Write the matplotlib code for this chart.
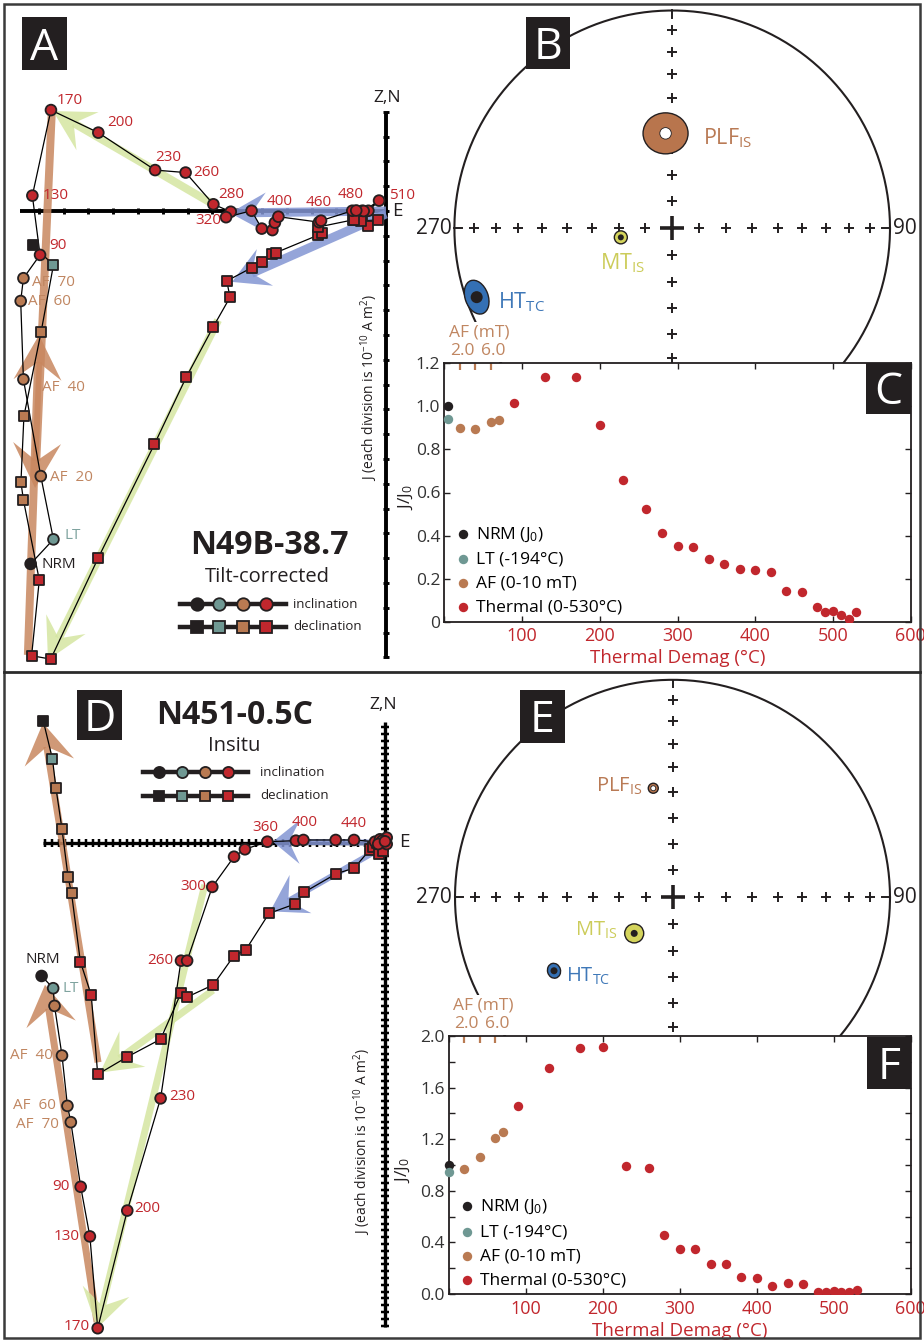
import numpy as np
import matplotlib
matplotlib.use('Agg')
import matplotlib.pyplot as plt
from matplotlib.patches import Rectangle, Ellipse, Circle, Polygon
from matplotlib.lines import Line2D

W, H = 924, 1341
plt.rcParams['font.family'] = ['Open Sans', 'DejaVu Sans']
plt.rcParams['mathtext.fontset'] = 'custom'
plt.rcParams['mathtext.rm'] = 'Open Sans'
plt.rcParams['mathtext.it'] = 'Open Sans:italic'
plt.rcParams['mathtext.bf'] = 'Open Sans:bold'

RED = '#c1272d'
BROWN = '#b97a52'
BROWN_TXT = '#c08661'
TEAL = '#6f9893'
TEAL_TXT = '#7fa39f'
INK = '#231f20'
FIT_GREEN = '#d5e6a1'
FIT_BLUE = '#8395d3'
FIT_BROWN = '#c8875f'
PLF_COL = '#b8754d'
MT_COL = '#d4d45c'
HT_COL = '#3470b4'

# demag steps: NRM, LT, AF (mT x10) then thermal (C)
steps = ['NRM', 'LT', 'AF 20', 'AF 40', 'AF 60', 'AF 70', 90, 130, 170, 200, 230, 260, 280,
         300, 320, 340, 360, 380, 400, 420, 440, 460, 480, 490, 500, 510, 520, 530]
step_col = [INK, TEAL] + [BROWN] * 4 + [RED] * 22

# N49B-38.7, tilt corrected (divisions of 1e-10 A m^2)
a_inc_x = [-14.33, -13.41, -13.92, -14.62, -14.73, -14.62, -13.95, -14.26, -13.51, -11.60, -9.31, -8.08, -6.96,
           -6.26, -6.45, -5.42, -5.01, -4.58, -4.48, -4.34, -2.70, -2.62, -1.36, -0.96, -0.71, -0.28, -0.90, -1.20]
a_inc_y = [-14.23, -13.24, -10.69, -6.79, -3.63, -2.71, -1.77, 0.62, 4.07, 3.16, 1.65, 1.55, 0.27,
           -0.03, -0.25, 0.01, -0.71, -0.77, -0.47, -0.23, -0.45, -0.39, 0.01, 0.01, 0.01, 0.42, 0.00, 0.02]
a_dec_x = [-14.25, -13.41, -13.91, -14.60, -14.72, -14.62, -13.98, -14.29, -13.52, -11.60, -9.34, -8.06, -6.96,
           -6.29, -6.42, -5.42, -4.99, -4.61, -4.44, -2.73, -2.59, -2.75, -1.34, -0.96, -0.71, -0.33, -1.00, -1.30]
a_dec_y = [-1.37, -2.18, -4.89, -8.27, -10.94, -11.65, -14.88, -17.93, -18.07, -13.98, -9.41, -6.71, -4.66,
           -3.48, -2.82, -2.29, -2.07, -1.73, -1.68, -0.97, -0.90, -0.65, -0.36, -0.36, -0.60, -0.36, -0.40, -0.38]
# component fits (tail, tip)
a_fit_tail = [(-14.44, -17.9), (-13.47, 4.15), (-6.98, 0.28), (-6.77, -4.40), (0.0, 0.0), (0.0, -0.12)]
a_fit_tip = [(-13.99, -5.0), (-14.15, -11.17), (-13.43, 4.03), (-13.63, -18.1), (-6.29, -0.08), (-6.21, -2.86)]

# N451-0.5C, in situ
d_inc_x = [-50.5, -48.8, -48.6, -47.5, -46.7, -46.2, -44.75, -43.4, -42.25, -37.9, -33.0, -30.0, -29.1,
           -25.4, -22.2, -20.6, -17.3, -13.1, -12.0, -7.25, -4.56, -1.47, -0.74, 0.25, 0.25, -0.4, -1.0, 0.0]
d_inc_y = [-19.6, -21.4, -24.0, -31.3, -38.7, -41.1, -50.6, -57.9, -71.4, -54.1, -37.6, -17.35, -17.35,
           -6.5, -2.06, -0.97, 0.15, 0.3, 0.4, 0.4, 0.4, 0.15, 0.5, 0.74, -0.2, 0.3, -0.2, 0.2]
d_dec_x = [-50.25, -48.9, -48.4, -47.5, -46.6, -46.1, -44.8, -43.2, -42.25, -37.9, -33.0, -30.0, -29.1,
           -25.25, -22.2, -20.5, -17.06, -13.2, -11.9, -7.25, -4.5, -2.2, -1.7, -0.7, -1.2, -0.25, -0.9, -0.3]
d_dec_y = [17.9, 12.3, 8.1, 2.0, -5.1, -7.4, -17.5, -22.4, -34.06, -31.5, -28.9, -22.1, -22.7,
           -20.9, -16.6, -15.8, -10.4, -9.0, -7.3, -4.6, -3.7, -1.0, -0.6, -0.6, 0.0, -0.5, -1.6, -1.2]
d_fit_tail = [(-42.2, -32.3), (-42.35, -70.5), (-26.5, -6.2), (-25.3, -21.7), (0.3, 0.0), (0.3, -0.3)]
d_fit_tip = [(-50.3, 17.6), (-50.0, -20.9), (-42.35, -71.4), (-41.9, -33.8), (-16.5, 0.15), (-16.9, -10.1)]
fit_col = [FIT_BROWN, FIT_BROWN, FIT_GREEN, FIT_GREEN, FIT_BLUE, FIT_BLUE]

# normalised intensity J/J0
therm_T = [90, 130, 170, 200, 230, 260, 280, 300, 320, 340, 360, 380, 400, 420, 440, 460, 480, 490, 500, 510, 520, 530]
af_x = [20, 40, 60, 70]
c_nrm, c_lt = 1.0, 0.94
c_af = [0.90, 0.895, 0.927, 0.937]
c_th = [1.016, 1.137, 1.137, 0.912, 0.658, 0.523, 0.413, 0.353, 0.345, 0.290, 0.269, 0.245, 0.239, 0.232,
        0.143, 0.136, 0.067, 0.047, 0.050, 0.031, 0.013, 0.044]
f_nrm, f_lt = 1.0, 0.943
f_af = [0.966, 1.064, 1.212, 1.256]
f_th = [1.457, 1.754, 1.909, 1.915, 0.990, 0.979, 0.455, 0.351, 0.351, 0.235, 0.230, 0.134, 0.127, 0.065,
        0.083, 0.075, 0.018, 0.013, 0.021, 0.013, 0.018, 0.031]

# site mean directions (dec, inc)
b_dec = [356.0, 260.0, 250.6]
b_inc = [54.0, 70.5, 5.4]
e_dec = [350.0, 226.7, 238.2]
e_inc = [47.8, 70.3, 36.1]

fig = plt.figure(figsize=(W / 100, H / 100), dpi=100)


def fx(x):
    return x / W


def fy(y):
    return 1 - y / H


def add_px_axes(x0, y0, x1, y1):
    return fig.add_axes([fx(x0), fy(y1), (x1 - x0) / W, (y1 - y0) / H])


def set_px_limits(ax, box, origin, scale):
    x0, y0, x1, y1 = box
    ox, oy = origin
    ax.set_xlim((x0 - ox) / scale, (x1 - ox) / scale)
    ax.set_ylim((oy - y1) / scale, (oy - y0) / scale)


def fit_arrow(ax, tail, tip, color, scale, width, head_len, head_w, alpha=0.85):
    t = np.array(tail)
    p = np.array(tip)
    u = (p - t) / np.hypot(*(p - t))
    n = np.array([-u[1], u[0]])
    L, hw = head_len / scale, head_w / scale
    notch = p - 0.6 * L * u
    ax.plot([t[0], notch[0]], [t[1], notch[1]], color=color, lw=width * 0.72, alpha=alpha,
            solid_capstyle='butt', zorder=3)
    head = [p, p - L * u + hw * n, notch, p - L * u - hw * n]
    ax.add_patch(Polygon(head, closed=True, fc=color, ec='none', alpha=alpha, zorder=3))


def draw_zij(ax, inc_x, inc_y, dec_x, dec_y, tails, tips, heads, scale, xmin, ymin, ymax, axis_lw, tick_ms,
             labels):
    ax.set_axis_off()
    ax.plot([xmin, 0.1 * 24.8 / scale], [0, 0], color='k', lw=axis_lw, zorder=2, solid_capstyle='butt')
    ax.plot([0, 0], [ymin, ymax], color='k', lw=axis_lw, zorder=2, solid_capstyle='butt')
    xt = np.arange(np.ceil(xmin), 0)
    ax.plot(xt, np.zeros_like(xt), ls='none', marker='|', ms=tick_ms, mew=axis_lw * 0.75, color='k', zorder=2)
    yt = np.arange(np.ceil(ymin), np.floor(ymax) + 1)
    ax.plot(np.zeros_like(yt), yt, ls='none', marker='_', ms=tick_ms, mew=axis_lw * 0.75, color='k', zorder=2)
    for t, p, c, (bw, hl, hw) in zip(tails, tips, fit_col, heads):
        fit_arrow(ax, t, p, c, scale, bw, hl, hw)
    ax.plot(dec_x, dec_y, color='k', lw=0.9, zorder=4)
    ax.plot(inc_x, inc_y, color='k', lw=0.9, zorder=4)
    ax.scatter(dec_x, dec_y, s=52, marker='s', c=step_col, edgecolors=INK, linewidths=1.3, zorder=5)
    ax.scatter(inc_x, inc_y, s=60, marker='o', c=step_col, edgecolors=INK, linewidths=1.3, zorder=6)
    for i, txt, dx, dy, ha in labels:
        col = INK if i == 0 else TEAL_TXT if i == 1 else BROWN_TXT if i < 6 else RED
        ax.annotate(txt, (inc_x[i], inc_y[i]), xytext=(dx, dy), textcoords='offset pixels', ha=ha,
                    va='center', color=col, fontsize=11, zorder=7)


def zij_key(y_inc, y_dec, x0, x1, xs, ms, text_x):
    for y, mk, txt in ((y_inc, 'o', 'inclination'), (y_dec, 's', 'declination')):
        fig.add_artist(Line2D([fx(x0), fx(x1)], [fy(y), fy(y)], color=INK, lw=3.2, zorder=3))
        for xm, c in zip(xs, [INK, TEAL, BROWN, RED]):
            fig.add_artist(Line2D([fx(xm)], [fy(y)], marker=mk, ms=ms if mk == 'o' else ms - 0.8,
                                  mfc=c, mec=INK, mew=1.3, ls='none', zorder=4))
        fig.text(fx(text_x), fy(y), txt, fontsize=9.5, va='center', ha='left', color=INK)


def eq_area(dec, inc):
    r = np.sqrt(2) * np.sin(np.radians(90 - np.abs(np.asarray(inc))) / 2)
    d = np.radians(np.asarray(dec))
    return r * np.sin(d), r * np.cos(d)


def draw_net(ax):
    ax.set_axis_off()
    t = np.linspace(0, 2 * np.pi, 500)
    ax.plot(np.cos(t), np.sin(t), color=INK, lw=1.5)
    grid_inc = np.arange(10, 90, 10)
    for az in (0, 90, 180, 270):
        gx, gy = eq_area(az, grid_inc)
        ax.plot(gx, gy, ls='none', marker='+', ms=7.5, mew=1.4, color=INK)
        s, c = np.sin(np.radians(az)), np.cos(np.radians(az))
        ax.plot([0.965 * s, s], [0.965 * c, c], color=INK, lw=1.4)
    ax.plot([0], [0], marker='+', ms=17, mew=2.6, color=INK)
    ax.annotate('270', (-1, 0), xytext=(-3, 0), textcoords='offset pixels', ha='right', va='center',
                fontsize=15, color=INK)
    ax.annotate('90', (1, 0), xytext=(3, 0), textcoords='offset pixels', ha='left', va='center',
                fontsize=15, color=INK)


def draw_means(ax, dec, inc, R, sizes, lab_off, fs):
    xs, ys = eq_area(dec, inc)
    (pw, ph, pd), (mw, md), (hw_, hh, ha_, hd) = sizes
    ax.add_patch(Ellipse((xs[0], ys[0]), pw / R, ph / R, fc=PLF_COL, ec=INK, lw=1.0, zorder=3))
    ax.add_patch(Circle((xs[0], ys[0]), pd / 2 / R, fc='white', ec=INK, lw=0.6, zorder=4))
    ax.add_patch(Circle((xs[1], ys[1]), mw / 2 / R, fc=MT_COL, ec=INK, lw=1.0, zorder=3))
    ax.add_patch(Circle((xs[1], ys[1]), md / 2 / R, fc=INK, ec='none', zorder=4))
    ax.add_patch(Ellipse((xs[2], ys[2]), hw_ / R, hh / R, angle=ha_, fc=HT_COL, ec=INK, lw=1.0, zorder=3))
    ax.add_patch(Circle((xs[2], ys[2]), hd / 2 / R, fc=INK, ec='none', zorder=4))
    texts = [r'PLF$_{\mathrm{IS}}$', r'MT$_{\mathrm{IS}}$', r'HT$_{\mathrm{TC}}$']
    cols = ['#b97a55', '#cccc5a', '#3f78b8']
    for k in range(3):
        dx, dy, ha = lab_off[k]
        ax.annotate(texts[k], (xs[k], ys[k]), xytext=(dx, dy), textcoords='offset pixels', ha=ha,
                    va='center', fontsize=fs, color=cols[k], zorder=5)


def draw_jj(ax, nrm_x, j_nrm, j_lt, j_af, j_th, ymax, major, major_lab, minor, leg_anchor):
    ax.set_facecolor('white')
    ax.scatter([nrm_x], [j_nrm], s=46, color=INK, lw=0, clip_on=False, zorder=3, label='NRM (J$_0$)')
    ax.scatter([nrm_x], [j_lt], s=46, color=TEAL, lw=0, clip_on=False, zorder=3, label='LT (-194°C)')
    ax.scatter(af_x, j_af, s=46, color=BROWN, lw=0, zorder=3, label='AF (0-10 mT)')
    ax.scatter(therm_T, j_th, s=46, color=RED, lw=0, zorder=3, label='Thermal (0-530°C)')
    ax.set_xlim(0, 600)
    ax.set_ylim(0, ymax)
    ax.set_xticks(range(0, 601, 100), [''] + [str(v) for v in range(100, 601, 100)])
    ax.set_yticks(major, major_lab)
    ax.set_yticks(minor, minor=True)
    ax.tick_params(which='both', direction='in', top=True, right=True, length=4.5, width=1.0, color=INK)
    ax.tick_params(axis='x', labelcolor=RED, labelsize=13, pad=4)
    ax.tick_params(axis='y', labelcolor='#333333', labelsize=12.5, pad=3)
    for sp in ax.spines.values():
        sp.set_linewidth(1.3)
        sp.set_color(INK)
    sec = ax.secondary_xaxis('top')
    sec.set_xticks(af_x[:3])
    sec.tick_params(direction='in', length=5, width=1.6, color=BROWN, labeltop=False)
    for sp in sec.spines.values():
        sp.set_visible(False)
    # blank strip under the AF scale so the net outline stops short of it
    pos = ax.get_position()
    top_px = (1 - pos.y1) * H
    ax.add_patch(Rectangle((fx(446), fy(top_px - 1)), 70 / W, 40 / H, transform=fig.transFigure,
                           fc='white', ec='none', clip_on=False, zorder=0.5))
    tr = ax.get_xaxis_transform()
    hpx = pos.height * H
    for xv, txt in ((20, '2.0'), (60, '6.0')):
        ax.text(xv + 3, 1 + 12 / hpx, txt, transform=tr, ha='center', va='center', color=BROWN_TXT,
                fontsize=12.5, clip_on=False, zorder=4)
    ax.text(45, 1 + 31 / hpx, 'AF (mT)', transform=tr, ha='center', va='center', color=BROWN_TXT,
            fontsize=12.5, clip_on=False, zorder=4)
    ax.set_xlabel('Thermal Demag (°C)', color=RED, fontsize=13.5, labelpad=3)
    ax.set_ylabel('J/J$_0$', fontsize=12.5, color=INK)
    ax.legend(loc='lower left', bbox_to_anchor=leg_anchor, frameon=False, fontsize=12.5, handlelength=1.0,
              handletextpad=0.25, labelspacing=0.45, borderpad=0, borderaxespad=0, scatterpoints=1)


# ---- A: orthogonal plot N49B-38.7
boxA = (6, 6, 418, 670)
axA = add_px_axes(*boxA)
set_px_limits(axA, boxA, (386, 211), 24.8)
a_labels = [(8, '170', 6, 10, 'left'), (9, '200', 9, 10, 'left'), (10, '230', 13, 13, 'center'),
            (11, '260', 8, 0, 'left'), (12, '280', 5, 10, 'left'), (14, '320', -5, -3, 'right'),
            (18, '400', 5, 21, 'center'), (21, '460', -2, 18, 'center'), (22, '480', -2, 16, 'center'),
            (25, '510', 10, 5, 'left'), (7, '130', 10, 0, 'left'), (6, '90', 9, 9, 'left'),
            (5, 'AF  70', 9, -4, 'left'), (4, 'AF  60', 7, 0, 'left'), (3, 'AF  40', 19, -8, 'left'),
            (2, 'AF  20', 9, -1, 'left'), (1, 'LT', 11, 4, 'left'), (0, 'NRM', 11, -1, 'left')]
a_heads = [(8, 45, 24), (8, 45, 24), (8, 40, 22), (8, 40, 22), (9, 36, 20), (9, 36, 20)]
draw_zij(axA, a_inc_x, a_inc_y, a_dec_x, a_dec_y, a_fit_tail, a_fit_tip, a_heads, 24.8,
         -14.75, -18, 4, 2.8, 5, a_labels)

# ---- D: orthogonal plot N451-0.5C
boxD = (6, 674, 418, 1336)
axD = add_px_axes(*boxD)
set_px_limits(axD, boxD, (385, 842.7), 6.8)
d_labels = [(16, '360', -2, 14, 'center'), (18, '400', 1, 17, 'center'), (20, '440', 0, 16, 'center'),
            (13, '300', -6, 0, 'right'), (11, '260', -8, 0, 'right'), (0, 'NRM', 1, 16, 'center'),
            (1, 'LT', 9, 0, 'left'), (3, 'AF  40', -9, 0, 'right'), (4, 'AF  60', -12, 0, 'right'),
            (5, 'AF  70', -12, -2, 'right'), (6, '90', -11, 0, 'right'), (7, '130', -10, 0, 'right'),
            (8, '170', -8, 2, 'right'), (10, '230', 9, 2, 'left'), (9, '200', 7, 2, 'left')]
d_heads = [(7, 40, 25), (7, 40, 25), (7, 38, 24), (7, 40, 22), (6, 27, 22), (6, 35, 22)]
draw_zij(axD, d_inc_x, d_inc_y, d_dec_x, d_dec_y, d_fit_tail, d_fit_tip, d_heads, 6.8,
         -50.25, -71.2, 17.8, 2.4, 5.5, d_labels)

# ---- B, E: equal area stereonets
boxB = (425, 6, 918, 363)
axB = add_px_axes(*boxB)
set_px_limits(axB, boxB, (672.2, 228.3), 217.8)
draw_net(axB)
draw_means(axB, b_dec, b_inc, 217.8, ((45, 41, 11.5), (13, 6), (23, 35, 20, 12)),
           [(37, -5, 'left'), (2, -26, 'center'), (21, -5, 'left')], 15.5)

boxE = (425, 676, 918, 1036)
axE = add_px_axes(*boxE)
set_px_limits(axE, boxE, (672.5, 897.3), 217.5)
draw_net(axE)
draw_means(axE, e_dec, e_inc, 217.5, ((10, 10, 5), (19, 7), (13, 15, 15, 7)),
           [(-11, 2, 'right'), (-17, 3, 'right'), (12, -6, 'left')], 14.5)

# ---- C, F: intensity decay
axC = add_px_axes(444.3, 363.3, 910.7, 621.7)
draw_jj(axC, 5, c_nrm, c_lt, c_af, c_th, 1.2, np.arange(0, 1.21, 0.2),
        ['0', '0.2', '0.4', '0.6', '0.8', '1.0', '1.2'], [], (0.022, 0.024))
axC.yaxis.set_label_coords(-0.063, 0.48)
axF = add_px_axes(449, 1036, 910.7, 1294)
draw_jj(axF, 0, f_nrm, f_lt, f_af, f_th, 2.0, np.arange(0, 2.01, 0.4),
        ['0.0', '0.4', '0.8', '1.2', '1.6', '2.0'], np.arange(0.2, 2.0, 0.4), (0.02, 0.023))
axF.yaxis.set_label_coords(-0.080, 0.48)

# axis annotations on the orthogonal plots
fig.text(fx(387), fy(98), 'Z,N', fontsize=12.5, ha='center', va='center', color=INK)
fig.text(fx(392), fy(211), 'E', fontsize=13.5, ha='left', va='center', color=INK)
fig.text(fx(383), fy(705), 'Z,N', fontsize=12.5, ha='center', va='center', color=INK)
fig.text(fx(399), fy(842), 'E', fontsize=13.5, ha='left', va='center', color=INK)
jlab = 'J (each division is 10$^{-10}$ A m$^2$)'
fig.text(fx(369), fy(387), jlab, rotation=90, fontsize=10, ha='center', va='center', color=INK)
fig.text(fx(362), fy(1141), jlab, rotation=90, fontsize=10, ha='center', va='center', color=INK)

fig.text(fx(269), fy(545), 'N49B-38.7', fontsize=23, fontweight='bold', ha='center', va='center', color=INK)
fig.text(fx(267), fy(577), 'Tilt-corrected', fontsize=14.5, ha='center', va='center', color=INK)
fig.text(fx(235), fy(715), 'N451-0.5C', fontsize=23, fontweight='bold', ha='center', va='center', color=INK)
fig.text(fx(234), fy(746), 'Insitu', fontsize=14.5, ha='center', va='center', color=INK)
zij_key(604.3, 626.7, 180, 286, [196.7, 219.3, 242.7, 265.7], 9, 293)
zij_key(772.3, 795.7, 143, 248, [159.3, 181.7, 205, 227.7], 8, 260)


def panel_tag(letter, x0, y0, x1, y1):
    fig.add_artist(Rectangle((fx(x0), fy(y1)), (x1 - x0) / W, (y1 - y0) / H, transform=fig.transFigure,
                             fc=INK, ec='none', zorder=5))
    fig.text(fx((x0 + x1) / 2), fy((y0 + y1) / 2 + 16), letter, color='white', fontsize=32,
             ha='center', va='baseline', zorder=6)


panel_tag('A', 22, 17, 67, 70)
panel_tag('B', 525.7, 16.7, 570, 69.3)
panel_tag('C', 866, 363, 910.7, 414)
panel_tag('D', 77, 690, 122, 740)
panel_tag('E', 520, 690, 565, 742.7)
panel_tag('F', 866.7, 1037, 910.7, 1089)

# outer frame and divider
fig.add_artist(Rectangle((fx(4), fy(1338)), 916 / W, 1334 / H, transform=fig.transFigure, fill=False,
                         ec='#3b3b3b', lw=1.8, zorder=8))
fig.add_artist(Line2D([fx(4), fx(920)], [fy(672), fy(672)], color='#2b2b2b', lw=2.0, zorder=8))

fig.savefig('out.png', dpi=100)
